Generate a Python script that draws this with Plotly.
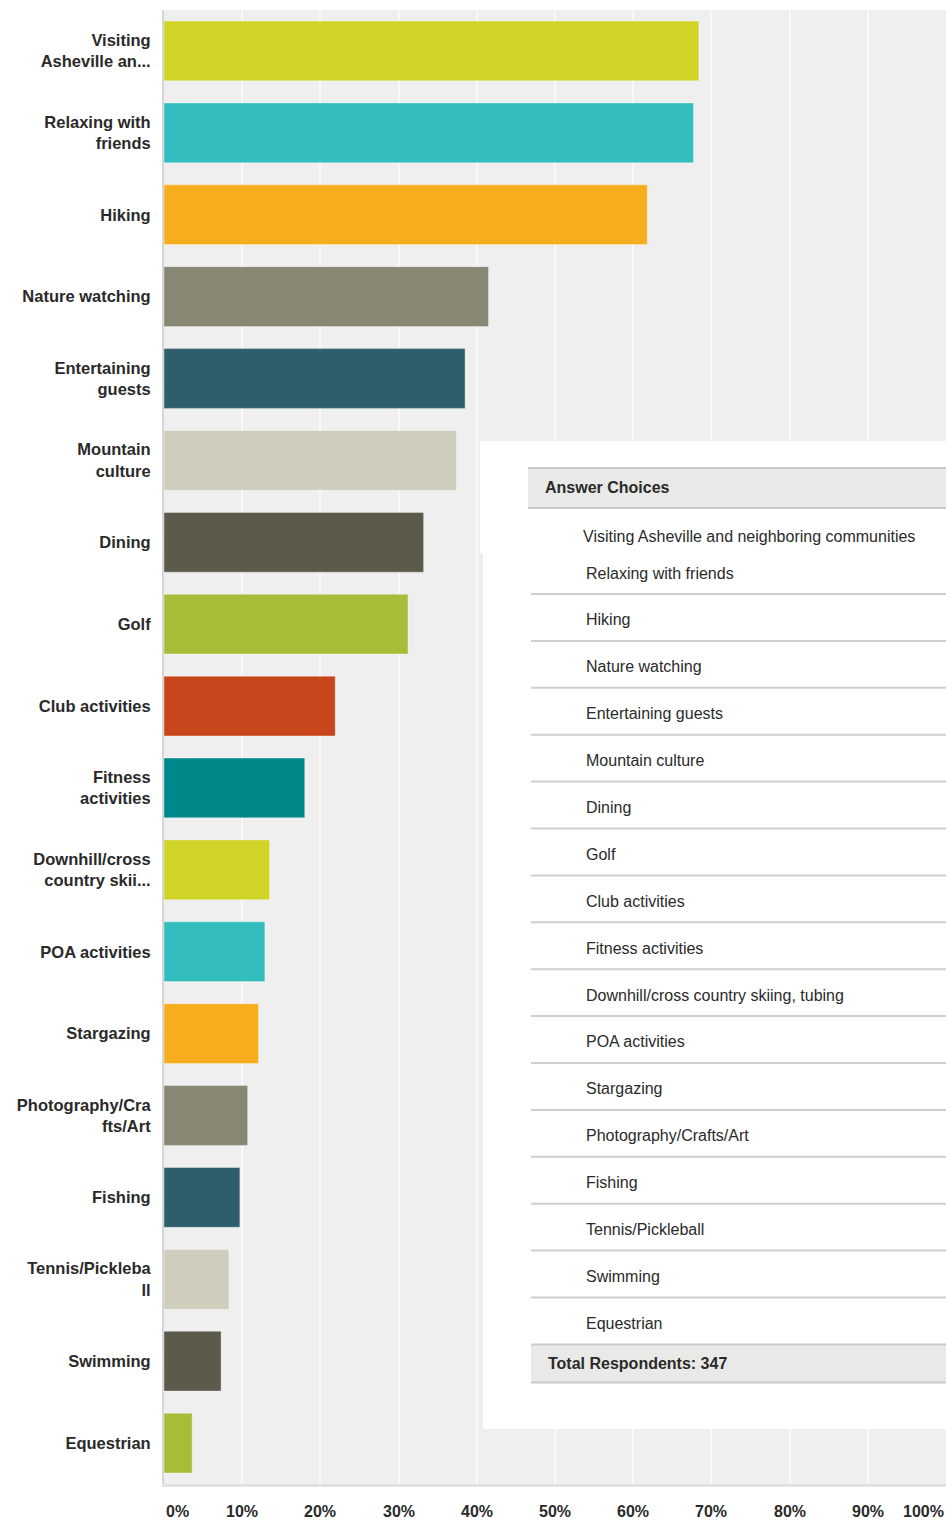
import plotly.graph_objects as go

# ---------------- data ----------------
axis_labels = [
    "Visiting<br>Asheville an...",
    "Relaxing with<br>friends",
    "Hiking",
    "Nature watching",
    "Entertaining<br>guests",
    "Mountain<br>culture",
    "Dining",
    "Golf",
    "Club activities",
    "Fitness<br>activities",
    "Downhill/cross<br>country skii...",
    "POA activities",
    "Stargazing",
    "Photography/Cra<br>fts/Art",
    "Fishing",
    "Tennis/Pickleba<br>ll",
    "Swimming",
    "Equestrian",
]
answer_choices = [
    "Visiting Asheville and neighboring communities",
    "Relaxing with friends",
    "Hiking",
    "Nature watching",
    "Entertaining guests",
    "Mountain culture",
    "Dining",
    "Golf",
    "Club activities",
    "Fitness activities",
    "Downhill/cross country skiing, tubing",
    "POA activities",
    "Stargazing",
    "Photography/Crafts/Art",
    "Fishing",
    "Tennis/Pickleball",
    "Swimming",
    "Equestrian",
]
percent_values = [68.4, 67.7, 61.8, 41.5, 38.5, 37.4, 33.2, 31.2, 21.9, 18.0,
                  13.5, 12.9, 12.1, 10.7, 9.7, 8.3, 7.3, 3.6]
palette = ["#CFD427", "#33BDBE", "#F6AE1F", "#878774", "#2E5E6B",
           "#CFCDBE", "#5C5A4B", "#A9BC38", "#C8461B", "#008789"]
x_ticks = [0, 10, 20, 30, 40, 50, 60, 70, 80, 90, 100]
x_tick_labels = ["0%", "10%", "20%", "30%", "40%", "50%", "60%", "70%", "80%", "90%", "100%"]
total_respondents = 347

# ---------------- layout geometry ----------------
W, H = 946, 1524
ML, MR, MT, MB = 164, 0, 10, 40
PW = W - ML - MR
PH = H - MT - MB
FONT = "Liberation Sans, Arial, sans-serif"
TXT = "#2a2a2a"


def px(x):
    """page pixel x -> paper x"""
    return (x - ML) / PW


def py(y):
    """page pixel y -> paper y"""
    return (H - MB - y) / PH


bar_colors = [palette[i % len(palette)] for i in range(len(percent_values))]

fig = go.Figure(go.Bar(
    x=percent_values,
    y=axis_labels,
    orientation="h",
    marker=dict(color=bar_colors, line=dict(color="rgba(255,255,255,0.35)", width=1)),
    hoverinfo="x+y",
))

fig.update_layout(
    width=W, height=H,
    margin=dict(l=ML, r=MR, t=MT, b=MB, pad=0),
    paper_bgcolor="white",
    plot_bgcolor="#efefef",
    bargap=0.27,
    showlegend=False,
    font=dict(family=FONT, color=TXT),
)
fig.update_xaxes(
    range=[0, 100], tickvals=x_ticks, showticklabels=False,
    showgrid=True, gridcolor="#f9f9f9", gridwidth=2,
    zeroline=False, showline=True, linecolor="#e2e2e2", linewidth=3,
    fixedrange=True,
)
fig.update_yaxes(
    autorange="reversed", automargin=False,
    showline=True, linecolor="#d6d6d6", linewidth=2,
    ticks="", ticklabelstandoff=8,
    tickfont=dict(family=FONT, size=16.5, color=TXT, weight="bold"),
    showgrid=False,
)

annotations = []
# x tick labels
for t, lab in zip(x_ticks, x_tick_labels):
    if t == x_ticks[0]:
        anchor = "left"
    elif t == x_ticks[-1]:
        anchor = "right"
    else:
        anchor = "center"
    annotations.append(dict(
        x=t, xref="x", y=py(1512), yref="paper", text=lab, showarrow=False,
        xanchor=anchor, yanchor="middle",
        font=dict(family=FONT, size=16, color=TXT, weight="bold"),
    ))

shapes = []
# white overlay box
shapes.append(dict(type="rect", xref="paper", yref="paper", layer="above",
                   x0=px(480), x1=1, y0=py(553), y1=py(441),
                   fillcolor="white", line=dict(width=0)))
shapes.append(dict(type="rect", xref="paper", yref="paper", layer="above",
                   x0=px(483), x1=1, y0=py(1429), y1=py(553),
                   fillcolor="white", line=dict(width=0)))
# header band
shapes.append(dict(type="rect", xref="paper", yref="paper", layer="above",
                   x0=px(528), x1=1, y0=py(508), y1=py(468),
                   fillcolor="#e9e9e7", line=dict(width=0)))
for yy in (468, 508):
    shapes.append(dict(type="line", xref="paper", yref="paper", layer="above",
                       x0=px(528), x1=1, y0=py(yy), y1=py(yy),
                       line=dict(color="#c9c9c9", width=2)))
annotations.append(dict(x=px(543), xref="paper", y=py(488), yref="paper",
                        text="Answer Choices", showarrow=False, xanchor="left",
                        yanchor="middle",
                        font=dict(family=FONT, size=16, color=TXT, weight="bold")))

# rows
row_step = 46.9
for i, name in enumerate(answer_choices):
    if i == 0:
        ty, tx = 536, 581
    else:
        ty, tx = 573 + row_step * (i - 1), 584
    annotations.append(dict(x=px(tx), xref="paper", y=py(ty), yref="paper",
                            text=name, showarrow=False, xanchor="left",
                            yanchor="middle",
                            font=dict(family=FONT, size=16, color=TXT)))
    if 1 <= i < len(answer_choices) - 1:
        ly = 594 + row_step * (i - 1)
        shapes.append(dict(type="line", xref="paper", yref="paper", layer="above",
                           x0=px(531), x1=1, y0=py(ly), y1=py(ly),
                           line=dict(color="#cfcfcf", width=2)))

# footer band
foot_top = 594 + row_step * (len(answer_choices) - 2)
foot_bot = foot_top + 38
shapes.append(dict(type="rect", xref="paper", yref="paper", layer="above",
                   x0=px(531), x1=1, y0=py(foot_bot), y1=py(foot_top),
                   fillcolor="#e9e9e7", line=dict(width=0)))
for yy in (foot_top, foot_bot):
    shapes.append(dict(type="line", xref="paper", yref="paper", layer="above",
                       x0=px(531), x1=1, y0=py(yy), y1=py(yy),
                       line=dict(color="#c9c9c9", width=2)))
annotations.append(dict(x=px(546), xref="paper", y=py((foot_top + foot_bot) / 2), yref="paper",
                        text=f"Total Respondents: {total_respondents}", showarrow=False,
                        xanchor="left", yanchor="middle",
                        font=dict(family=FONT, size=16, color=TXT, weight="bold")))

fig.update_layout(shapes=shapes, annotations=annotations)
fig.write_html(
    "out.html",
    config={"displayModeBar": False},
    post_script="document.body.style.margin='0';document.body.style.overflow='hidden';",
)
